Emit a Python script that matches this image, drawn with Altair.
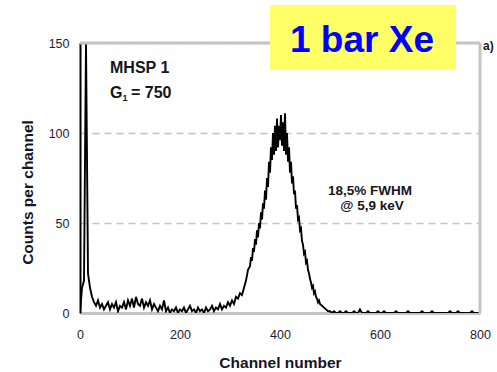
import altair as alt
import pandas as pd

# ---- data ----
channels = list(range(0, 340, 4)) + list(range(340, 482, 2)) + list(range(484, 804, 4))

counts_low = [
    0, 14, 18, 150, 22, 14, 9, 6, 4, 7,
    3, 5, 2, 4, 6, 2, 5, 3, 6, 1,
    4, 3, 6, 2, 7, 4, 8, 3, 9, 5,
    4, 8, 3, 6, 4, 7, 2, 5, 3, 1,
    4, 2, 7, 1, 3, 0, 2, 1, 3, 0,
    2, 1, 3, 0, 2, 4, 1, 2, 0, 3,
    1, 2, 0, 3, 1, 2, 4, 1, 3, 2,
    5, 2, 4, 3, 6, 4, 7, 5, 9, 8,
    11, 10, 14, 18, 24,
]
counts_peak = [
    26, 31, 29, 36, 34, 41, 38, 46, 42, 50,
    47, 56, 52, 61, 58, 68, 63, 75, 70, 84,
    78, 92, 85, 100, 88, 104, 90, 108, 92, 104,
    96, 110, 93, 106, 90, 111, 88, 100, 84, 92,
    78, 84, 72, 76, 66, 68, 58, 60, 52, 53,
    46, 47, 40, 38, 33, 34, 28, 29, 24, 22,
    19, 17, 14, 15, 11, 12, 9, 8, 6, 7,
    5,
]
counts_tail = [
    4, 3, 2, 1, 1, 0, 1, 0, 0, 1,
    0, 0, 1, 0, 0, 0, 1, 0, 0, 2,
    0, 0, 0, 1, 0, 0, 0, 0, 1, 0,
    0, 1, 0, 0, 0, 0, 0, 1, 0, 0,
    0, 0, 0, 1, 0, 0, 0, 0, 0, 0,
    1, 0, 0, 0, 0, 1, 0, 0, 0, 0,
    0, 0, 0, 0, 1, 0, 0, 0, 1, 0,
    0, 0, 0, 0, 0, 1, 0, 0, 0, 0,
]
counts = counts_low + counts_peak + counts_tail

x_ticks = [0, 200, 400, 600, 800]
y_ticks = [0, 50, 100, 150]
x_domain = [0, 800]
y_domain = [0, 150]

FONT = "Liberation Sans"
LABEL_COLOR = "#1c1c30"
TEXT_COLOR = "#15151f"
FRAME_GRAY = "#c4c4c4"

df = pd.DataFrame({"channel": channels, "count": counts})

x_scale = alt.Scale(domain=x_domain, nice=False, zero=False)
y_scale = alt.Scale(domain=y_domain, nice=False)

x_axis = alt.Axis(
    values=x_ticks, title="Channel number", grid=False, ticks=False, tickSize=0,
    domainColor=FRAME_GRAY, domainWidth=3,
    labelFont=FONT, labelFontSize=12.5, labelColor=LABEL_COLOR,
    labelPadding=25, labelBaseline="alphabetic", labelFlush=False,
    titleFont=FONT, titleFontSize=15.5, titleFontWeight="bold", titleColor=TEXT_COLOR,
    titleY=54, titleBaseline="alphabetic",
)
y_axis = alt.Axis(
    values=y_ticks, title="Counts per channel", grid=True, gridDash=[7, 5],
    gridColor=FRAME_GRAY, gridWidth=1.5, ticks=False, tickSize=0,
    domainColor="black", domainWidth=2,
    labelFont=FONT, labelFontSize=12.5, labelColor=LABEL_COLOR,
    labelPadding=11, labelBaseline="middle", labelFlush=False,
    titleFont=FONT, titleFontSize=15.5, titleFontWeight="bold", titleColor=TEXT_COLOR,
    titleAngle=270, titleX=-48, titleY=149, titleAlign="center", titleBaseline="alphabetic",
)

line = alt.Chart(df).mark_line(color="black", strokeWidth=1.9, clip=True).encode(
    x=alt.X("channel:Q", scale=x_scale, axis=x_axis),
    y=alt.Y("count:Q", scale=y_scale, axis=y_axis),
)

frame_top = alt.Chart(pd.DataFrame({"count": [y_domain[1]]})).mark_rule(
    color=FRAME_GRAY, strokeWidth=3
).encode(y=alt.Y("count:Q", scale=y_scale))
frame_right = alt.Chart(pd.DataFrame({"channel": [x_domain[1]]})).mark_rule(
    color=FRAME_GRAY, strokeWidth=3
).encode(x=alt.X("channel:Q", scale=x_scale))

one = pd.DataFrame({"k": [0]})

label_box = alt.Chart(one).mark_rect(color="#ffff66").encode(
    x=alt.value(190), x2=alt.value(376), y=alt.value(-38), y2=alt.value(27)
)
label_text = alt.Chart(one).mark_text(
    text="1 bar Xe", font=FONT, fontSize=37, fontWeight="bold", color="#0000ff",
    align="center", baseline="alphabetic"
).encode(x=alt.value(282), y=alt.value(9))
panel_tag = alt.Chart(one).mark_text(
    text="a)", font=FONT, fontSize=12, fontWeight="bold", color=TEXT_COLOR,
    align="left", baseline="alphabetic"
).encode(x=alt.value(403), y=alt.value(7))

mhsp = alt.Chart(one).mark_text(
    text="MHSP 1", font=FONT, fontSize=16, fontWeight="bold", color=TEXT_COLOR,
    align="left", baseline="alphabetic"
).encode(x=alt.value(30), y=alt.value(30))
gain_g = alt.Chart(one).mark_text(
    text="G", font=FONT, fontSize=16, fontWeight="bold", color=TEXT_COLOR,
    align="left", baseline="alphabetic"
).encode(x=alt.value(30), y=alt.value(55))
gain_sub = alt.Chart(one).mark_text(
    text="1", font=FONT, fontSize=9, fontWeight="bold", color=TEXT_COLOR,
    align="left", baseline="alphabetic"
).encode(x=alt.value(42.5), y=alt.value(58))
gain_val = alt.Chart(one).mark_text(
    text="= 750", font=FONT, fontSize=16, fontWeight="bold", color=TEXT_COLOR,
    align="left", baseline="alphabetic"
).encode(x=alt.value(51), y=alt.value(55))

fwhm1 = alt.Chart(one).mark_text(
    text="18,5% FWHM", font=FONT, fontSize=13.5, fontWeight="bold", color=TEXT_COLOR,
    align="center", baseline="alphabetic"
).encode(x=alt.value(290), y=alt.value(152))
fwhm2 = alt.Chart(one).mark_text(
    text="@ 5,9 keV", font=FONT, fontSize=13.5, fontWeight="bold", color=TEXT_COLOR,
    align="center", baseline="alphabetic"
).encode(x=alt.value(292), y=alt.value(167))

chart = alt.layer(
    line, frame_top, frame_right, label_box, label_text, panel_tag,
    mhsp, gain_g, gain_sub, gain_val, fwhm1, fwhm2
).properties(
    width=400, height=270,
    autosize=alt.AutoSizeParams(type="none"),
    padding={"left": 80, "top": 43, "right": 17, "bottom": 59},
    background="white",
).configure_view(stroke=None)

chart.save("out.html", embed_options={"renderer": "svg", "actions": False})
